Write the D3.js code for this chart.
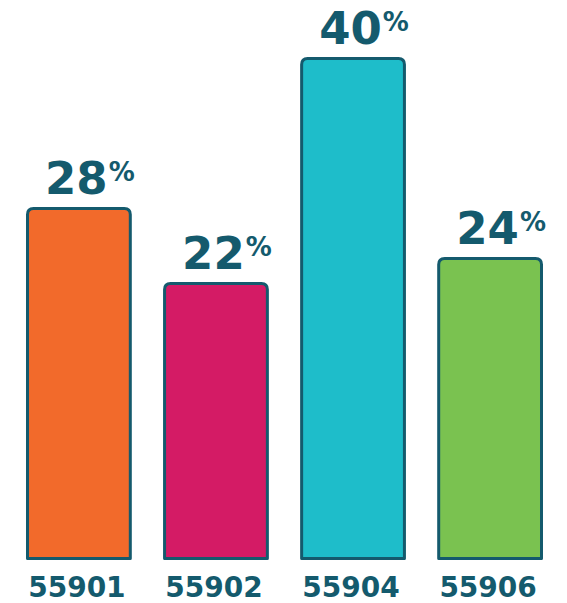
<!DOCTYPE html>
<html>
<head>
<meta charset="utf-8">
<script src="https://cdn.jsdelivr.net/npm/d3@7"></script>
<style>
  body { margin: 0; background: #fff; }
</style>
</head>
<body>
<div id="chart"></div>
<script>
const categories = ["55901", "55902", "55904", "55906"];
const values = [28, 22, 40, 24];
const colors = ["#f26a2b", "#d41b65", "#1ebdca", "#7ac250"];

const width = 567, height = 603;
const ink = "#145a6d";

const x = d3.scaleBand()
    .domain(categories)
    .range([27.5, 541.5])
    .paddingInner(0.25)
    .paddingOuter(0);

const y = d3.scaleLinear()
    .domain([0, 40])
    .range([558.5, 58.5]);

const svg = d3.select("#chart")
    .append("svg")
    .attr("width", width)
    .attr("height", height);

const data = categories.map((c, i) => ({ cat: c, value: values[i], color: colors[i] }));

// bar with rounded top corners only
function barPath(d) {
    const x0 = x(d.cat), x1 = x0 + x.bandwidth();
    const y0 = y(d.value), y1 = y(0);
    const r = 6;
    return `M${x0},${y1} L${x0},${y0 + r} Q${x0},${y0} ${x0 + r},${y0}
            L${x1 - r},${y0} Q${x1},${y0} ${x1},${y0 + r} L${x1},${y1} Z`;
}

svg.selectAll("path.bar")
    .data(data)
    .join("path")
    .attr("class", "bar")
    .attr("d", barPath)
    .attr("fill", d => d.color)
    .attr("stroke", ink)
    .attr("stroke-width", 3)
    .attr("stroke-linejoin", "round");

const labels = svg.selectAll("text.value")
    .data(data)
    .join("text")
    .attr("class", "value")
    .attr("x", d => x(d.cat) + x.bandwidth() / 2 + 11)
    .attr("y", d => y(d.value) - 15)
    .attr("text-anchor", "middle")
    .attr("fill", ink)
    .style("font-family", "'DejaVu Sans', sans-serif")
    .style("font-weight", "bold")
    .style("font-size", "45px");

labels.append("tspan").text(d => d.value);
labels.append("tspan")
    .attr("dy", -13)
    .attr("dx", 1)
    .style("font-size", "26px")
    .text("%");

svg.selectAll("text.cat")
    .data(data)
    .join("text")
    .attr("class", "cat")
    .attr("x", d => x(d.cat) + x.bandwidth() / 2 - 2)
    .attr("y", 597)
    .attr("text-anchor", "middle")
    .attr("fill", ink)
    .style("font-family", "'DejaVu Sans', sans-serif")
    .style("font-weight", "bold")
    .style("font-size", "28px")
    .text(d => d.cat);
</script>
</body>
</html>
